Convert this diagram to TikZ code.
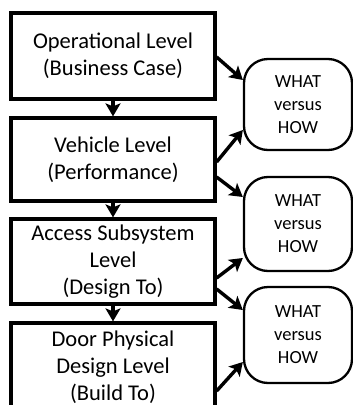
\documentclass[tikz,border=0pt]{standalone}
\usepackage{fontspec}
\setmainfont{Carlito}
\usetikzlibrary{arrows.meta}
\begin{document}
\begin{tikzpicture}[x=1pt,y=-1pt,
  level/.style={draw, line width=3.2pt, minimum width=204pt, inner sep=0pt,
    align=center, font=\fontsize{22.5}{27}\selectfont},
  whatbox/.style={draw, line width=2.3pt, rounded corners=24pt, minimum width=108pt,
    inner sep=0pt, align=center, font=\fontsize{18.5}{23}\selectfont},
  flow/.style={line width=3.4pt, -{Stealth[length=13pt,width=15pt,inset=3pt]}}]
  \useasboundingbox (0,0) rectangle (353,405);
  \clip (0,0) rectangle (353,405);
  % level boxes
  \node[level, minimum height=86pt] (b1) at (113,56) {Operational Level\\(Business Case)};
  \node[level, minimum height=83pt] (b2) at (113,159.5) {Vehicle Level\\(Performance)};
  \node[level, minimum height=85pt] (b3) at (113,261.5) {Access Subsystem\\Level\\(Design To)};
  \node[level, minimum height=88pt] (b4) at (113,367) {Door Physical\\Design Level\\(Build To)};
  % what-versus-how boxes
  \node[whatbox, minimum height=91pt] (w1) at (298,104.5) {WHAT\\versus\\HOW};
  \node[whatbox, minimum height=94pt] (w2) at (298,224) {WHAT\\versus\\HOW};
  \node[whatbox, minimum height=96pt] (w3) at (298,335) {WHAT\\versus\\HOW};
  % downward flow between levels
  \draw[flow] (b1.south) -- (b2.north);
  \draw[flow] (b2.south) -- (b3.north);
  \draw[flow] (b3.south) -- (b4.north);
  % links to the what-versus-how boxes
  \draw[flow] ([yshift=-1pt]b1.east) -- ([yshift=24.5pt]w1.west);
  \draw[flow] ([yshift=-2.5pt]b2.east) -- ([yshift=-25.5pt]w1.west);
  \draw[flow] ([yshift=-17.5pt]b2.east) -- ([yshift=27pt]w2.west);
  \draw[flow] ([yshift=-16.5pt]b3.east) -- ([yshift=-34pt]w2.west);
  \draw[flow] ([yshift=-27.5pt]b3.east) -- ([yshift=25pt]w3.west);
  \draw[flow] ([yshift=-24pt]b4.east) -- ([yshift=-27pt]w3.west);
\end{tikzpicture}
\end{document}
